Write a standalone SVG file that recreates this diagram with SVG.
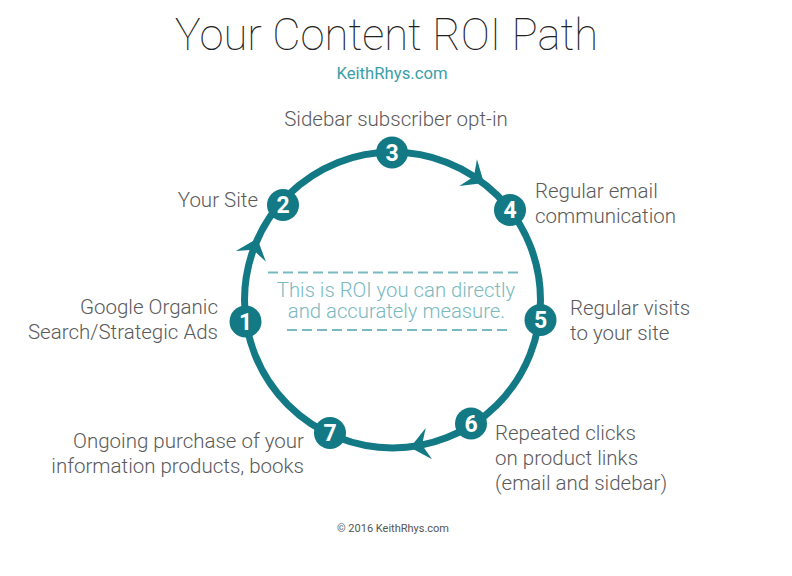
<svg xmlns="http://www.w3.org/2000/svg" width="792" height="576" viewBox="0 0 792 576">
<style>
.lbl{font-family:Roboto,"Liberation Sans",sans-serif;font-weight:300;font-size:20.5px;fill:#5a5a5a}
.num{font-family:Roboto,"Liberation Sans",sans-serif;font-weight:700;font-size:23px;fill:#fff;text-anchor:middle}
.node circle{fill:#137a85}
.mid{font-family:Roboto,"Liberation Sans",sans-serif;font-weight:300;font-size:20.3px;fill:#7ab9c0;text-anchor:middle}
</style>
<defs>
<polygon id="arr" points="540.5,312 556.5,293 540.5,300 524.5,293" fill="#137a85"/>
</defs>
<rect width="792" height="576" fill="#fff"/>
<text x="386.5" y="50" text-anchor="middle" font-family="Roboto,'Liberation Sans',sans-serif" font-weight="100" font-size="43.6" fill="#222">Your Content ROI Path</text>
<text x="392" y="79" text-anchor="middle" font-family="Roboto,'Liberation Sans',sans-serif" font-size="16.7" fill="#3b9ea8">KeithRhys.com</text>
<g id="connectors">
<circle cx="392.5" cy="300" r="148" fill="none" stroke="#137a85" stroke-width="7"/>
<use href="#arr" transform="rotate(-56.6 392.5 300)"/>
<use href="#arr" transform="rotate(199.8 392.5 300)"/>
<use href="#arr" transform="rotate(78.5 392.5 300)"/>
</g>
<g id="roi-note">
<line x1="268" y1="272.5" x2="518" y2="272.5" stroke="#7ab9c0" stroke-width="2" stroke-dasharray="10 5"/>
<line x1="287" y1="330" x2="510" y2="330" stroke="#7ab9c0" stroke-width="2" stroke-dasharray="10 5"/>
<text class="mid" x="396" y="297">This is ROI you can directly</text>
<text class="mid" x="396.5" y="317.5">and accurately measure.</text>
</g>
<g id="n1" class="node"><circle cx="245.5" cy="321.5" r="16"/><text class="num" x="245.5" y="329.5">1</text>
<text class="lbl" text-anchor="end"><tspan x="218" y="314">Google Organic</tspan><tspan x="218" y="339">Search/Strategic Ads</tspan></text></g>
<g id="n2" class="node"><circle cx="283" cy="205" r="16"/><text class="num" x="283" y="213">2</text>
<text class="lbl" x="258" y="207" text-anchor="end">Your Site</text></g>
<g id="n3" class="node"><circle cx="392" cy="152.5" r="16"/><text class="num" x="392" y="160.5">3</text>
<text class="lbl" x="396" y="126" text-anchor="middle">Sidebar subscriber opt-in</text></g>
<g id="n4" class="node"><circle cx="510" cy="210" r="16"/><text class="num" x="510" y="218">4</text>
<text class="lbl"><tspan x="535" y="198">Regular email</tspan><tspan x="535" y="223">communication</tspan></text></g>
<g id="n5" class="node"><circle cx="540.5" cy="320" r="16"/><text class="num" x="540.5" y="328">5</text>
<text class="lbl"><tspan x="570" y="315">Regular visits</tspan><tspan x="570" y="340">to your site</tspan></text></g>
<g id="n6" class="node"><circle cx="471" cy="423.5" r="16"/><text class="num" x="471" y="431.5">6</text>
<text class="lbl"><tspan x="495" y="440">Repeated clicks</tspan><tspan x="495" y="465">on product links</tspan><tspan x="495" y="490">(email and sidebar)</tspan></text></g>
<g id="n7" class="node"><circle cx="330" cy="433" r="16"/><text class="num" x="330" y="441">7</text>
<text class="lbl" text-anchor="end"><tspan x="304" y="448">Ongoing purchase of your</tspan><tspan x="304" y="473">information products, books</tspan></text></g>
<text x="393" y="532" text-anchor="middle" font-family="Roboto,'Liberation Sans',sans-serif" font-size="11" fill="#555">© 2016 KeithRhys.com</text>
</svg>
